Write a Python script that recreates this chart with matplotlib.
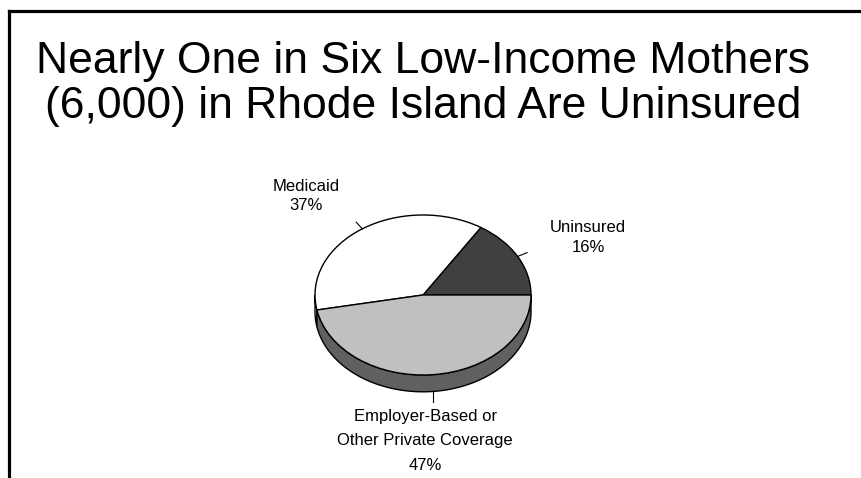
import matplotlib
matplotlib.use('Agg')
import matplotlib.pyplot as plt
import numpy as np
from matplotlib.patches import Polygon
from matplotlib.lines import Line2D

plt.rcParams['font.family'] = ['Liberation Sans', 'DejaVu Sans']

title = "Nearly One in Six Low-Income Mothers\n(6,000) in Rhode Island Are Uninsured"
categories = ['Uninsured', 'Medicaid', 'Employer-Based or\nOther Private Coverage']
shares = [16, 37, 47]
top_colors = ['#404040', '#ffffff', '#c0c0c0']
side_colors = ['#2a2a2a', '#f2f2f2', '#606060']

W, H = 861, 478
fig = plt.figure(figsize=(W / 100, H / 100), dpi=100)

# slide frame (left and top edges only, the rest runs off the page)
fx, fy = 8.5 / W, 1 - 10.5 / H
fig.add_artist(Line2D([fx, fx], [-0.05, fy], color='black', lw=2.3, solid_capstyle='projecting'))
fig.add_artist(Line2D([fx, 1.05], [fy, fy], color='black', lw=2.3, solid_capstyle='projecting'))

fig.text(423 / W, 1 - 84 / H, title, ha='center', va='center', fontsize=32, linespacing=1.12)

# pie axes: 108 px per x unit, 80 px per y unit -> tilted disc
ax = fig.add_axes([261 / W, 63 / H, 324 / W, 240 / H])
wedges, _ = ax.pie(shares, colors=top_colors, startangle=0, counterclock=True,
                   wedgeprops=dict(edgecolor='black', linewidth=1, zorder=2))
ax.set_aspect('auto')
ax.set_xlim(-1.5, 1.5)
ax.set_ylim(-1.5, 1.5)
ax.axis('off')

depth = 0.21
bounds = np.concatenate([[0], np.cumsum(shares)]) / sum(shares) * 360

# side wall of the disc, only the front half (180..360 deg) shows
for a1, a2, c in zip(bounds[:-1], bounds[1:], side_colors):
    lo, hi = max(a1, 180), min(a2, 360)
    if hi <= lo:
        continue
    t = np.radians(np.linspace(lo, hi, 100))
    top = np.column_stack([np.cos(t), np.sin(t)])
    bot = np.column_stack([np.cos(t), np.sin(t) - depth])[::-1]
    ax.add_patch(Polygon(np.vstack([top, bot]), closed=True, facecolor=c,
                         edgecolor='black', linewidth=1, zorder=1))

# labels with short leader lines at each slice's middle angle
mids = np.radians((bounds[:-1] + bounds[1:]) / 2)
label_pos = [(1.53, 0.72), (-1.08, 1.24), (0.02, -1.82)]
label_spacing = [1.35, 1.35, 1.8]
for name, share, m, (lx, ly), ls in zip(categories, shares, mids, label_pos, label_spacing):
    cx, cy = np.cos(m), np.sin(m)
    if cy < 0:
        ax.plot([cx, cx], [cy - depth, cy - depth - 0.13], color='black', lw=0.8, zorder=3)
    else:
        ax.plot([cx, 1.1 * cx], [cy, 1.1 * cy], color='black', lw=0.8, zorder=3)
    ax.text(lx, ly, f"{name}\n{share}%", ha='center', va='center',
            fontsize=12, linespacing=ls)

fig.savefig('out.png', dpi=100)
